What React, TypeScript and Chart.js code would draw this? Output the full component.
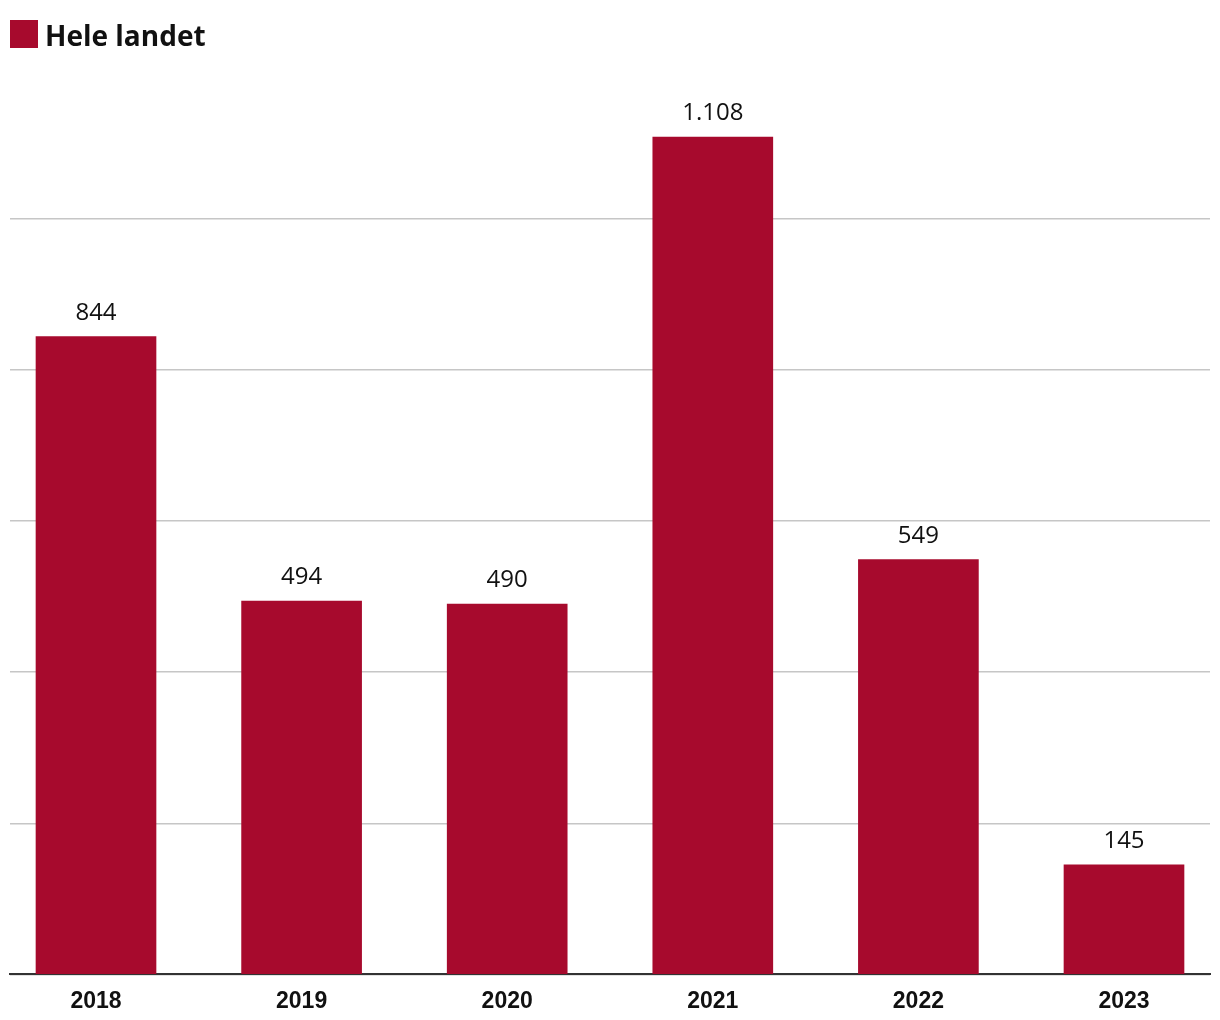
import React, { useEffect, useRef } from "react";
import { Chart, registerables } from "chart.js";

Chart.register(...registerables);

const years = ["2018", "2019", "2020", "2021", "2022", "2023"];
const values = [844, 494, 490, 1108, 549, 145];
const gridTicks = [0, 200, 400, 600, 800, 1000];
const seriesLabel = "Hele landet";

const barColor = "#a70a2d";

const fmt = (v: number) => String(v).replace(/\B(?=(\d{3})+(?!\d))/g, ".");

const valueLabels = {
  id: "valueLabels",
  afterDatasetsDraw(chart: any) {
    const ctx = chart.ctx;
    const meta = chart.getDatasetMeta(0);
    ctx.save();
    ctx.font = "24px 'Open Sans'";
    ctx.fillStyle = "#111";
    ctx.textAlign = "center";
    ctx.textBaseline = "alphabetic";
    meta.data.forEach((bar: any, i: number) => {
      ctx.fillText(fmt(values[i]), bar.x, bar.y - 17);
    });
    ctx.restore();
  },
};

const simpleLegend = {
  id: "simpleLegend",
  afterDraw(chart: any) {
    const ctx = chart.ctx;
    ctx.save();
    chart.data.datasets.forEach((ds: any) => {
      ctx.fillStyle = ds.backgroundColor;
      ctx.fillRect(10, 20, 28, 28);
      ctx.fillStyle = "#111";
      ctx.font = "bold 28px 'Open Sans'";
      ctx.textAlign = "left";
      ctx.textBaseline = "alphabetic";
      ctx.fillText(ds.label, 45, 46);
    });
    ctx.restore();
  },
};

export default function App() {
  const ref = useRef<HTMLCanvasElement | null>(null);

  useEffect(() => {
    if (!ref.current) return;
    const chart = new Chart(ref.current, {
      type: "bar",
      data: {
        datasets: [
          {
            label: seriesLabel,
            data: values.map((v, i) => ({ x: i, y: v })),
            backgroundColor: barColor,
            borderWidth: 0,
            barThickness: 120,
          },
        ],
      },
      options: {
        animation: false,
        responsive: true,
        maintainAspectRatio: false,
        layout: { padding: { left: 0, right: 10, top: 57, bottom: -8 } },
        plugins: {
          tooltip: { enabled: false },
          legend: { display: false },
        },
        scales: {
          x: {
            type: "linear",
            offset: false,
            min: -0.4183,
            max: 5.4183,
            afterBuildTicks: (axis: any) => {
              axis.ticks = years.map((_, i) => ({ value: i }));
            },
            ticks: {
              autoSkip: false,
              maxRotation: 0,
              padding: 13,
              color: "#111",
              font: { family: "'Liberation Sans', Arial, sans-serif", size: 23, weight: "bold" },
              callback: (v: any) => years[v] ?? "",
            },
            grid: { display: false, drawTicks: false },
            border: { display: true, color: "#333", width: 2 },
          },
          y: {
            min: 0,
            max: 1214,
            afterBuildTicks: (axis: any) => {
              axis.ticks = gridTicks.map((v) => ({ value: v }));
            },
            afterFit: (axis: any) => {
              axis.width = 10;
            },
            ticks: { display: false },
            grid: { color: "#c6c6c6", lineWidth: 1.5, drawTicks: false },
            border: { display: false },
          },
        },
      },
      plugins: [valueLabels, simpleLegend],
    });
    return () => chart.destroy();
  }, []);

  return (
    <div style={{ position: "absolute", left: 0, top: 0, width: 1220, height: 1020, background: "#fff" }}>
      <canvas ref={ref} />
    </div>
  );
}
